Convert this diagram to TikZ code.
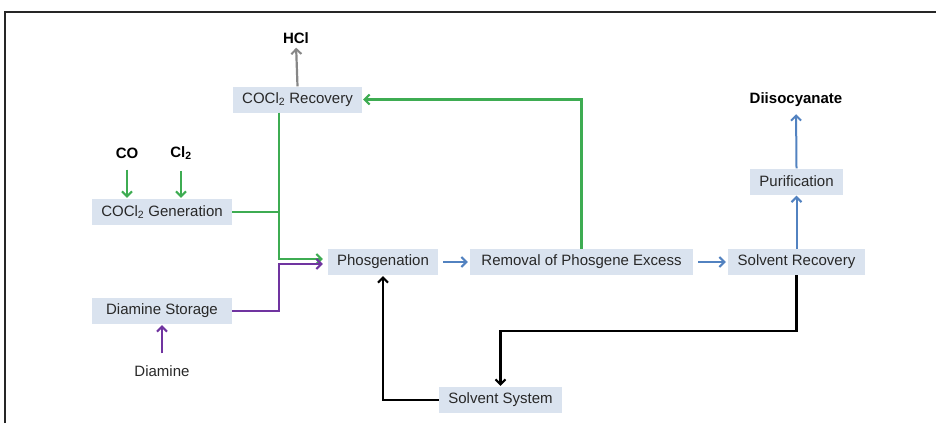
\documentclass[tikz,border=0pt]{standalone}
\usepackage{fontspec}
\setmainfont{Liberation Sans}
\usetikzlibrary{arrows.meta,calc}
\definecolor{boxfill}{RGB}{218,227,239}
\definecolor{txt}{RGB}{40,40,40}
\definecolor{grn}{RGB}{62,172,82}
\definecolor{prp}{RGB}{112,52,160}
\definecolor{blu}{RGB}{82,130,192}
\definecolor{gry}{RGB}{135,135,135}
\tikzset{
  procbox/.style={fill=boxfill, text=txt, inner xsep=0pt, inner ysep=0pt, minimum height=26pt, font=\fontsize{15}{18}\selectfont},
  lbl/.style={text=black, inner sep=0pt, font=\fontsize{15}{18}\selectfont\bfseries},
  plainlbl/.style={text=txt, inner sep=0pt, font=\fontsize{15}{18}\selectfont},
  tip/.style={-{Straight Barb[length=5pt,width=10pt,line width=2pt]}},
  gline/.style={draw=grn, line width=2.3pt},
  pline/.style={draw=prp, line width=2.3pt},
  bline/.style={draw=blu, line width=2pt},
  kline/.style={draw=black, line width=2.6pt},
  hline/.style={draw=gry, line width=2.2pt},
}
\begin{document}
\begin{tikzpicture}[x=1pt,y=-1pt]
\useasboundingbox (0,0) rectangle (936,423);
% frame
\draw[line width=1.6pt, draw=black!85] (5,423) -- (5,12) -- (936,12);

% nodes
\node[lbl] (hcl) at (296,38) {HCl};
\node[procbox, minimum width=129pt] (rec) at (297.5,99.5) {COCl\textsubscript{2} Recovery};
\node[lbl] (co) at (127,153) {CO};
\node[lbl] (cl) at (181,153) {Cl\textsubscript{2}};
\node[procbox, minimum width=140pt] (gen) at (162,212) {COCl\textsubscript{2} Generation};
\node[procbox, minimum width=140pt] (ds) at (162,311) {Diamine Storage};
\node[plainlbl] (dia) at (162,371) {Diamine};
\node[procbox, minimum width=110pt] (phos) at (383,262) {Phosgenation};
\node[procbox, minimum width=223pt] (rem) at (581.5,262) {Removal of Phosgene Excess};
\node[procbox, minimum width=137pt] (srec) at (796.5,262) {Solvent Recovery};
\node[procbox, minimum width=93pt] (pur) at (796.5,181.5) {Purification};
\node[lbl] (dii) at (796,100) {Diisocyanate};
\node[procbox, minimum width=123pt] (ss) at (500.5,400) {Solvent System};

% helper coordinates
\coordinate (jx) at (279,0);
\coordinate (gy) at (0,259);
\coordinate (py) at (0,264);
\coordinate (ky) at (0,331);

% gray HCl
\draw[hline,tip,shorten >=4pt] (rec.north) -- (hcl.south);
% green
\draw[gline,tip,shorten <=11pt,shorten >=1pt] (co.south) -- (co.south |- gen.north);
\draw[gline,tip,shorten <=11pt,shorten >=1pt] (cl.south) -- (cl.south |- gen.north);
\draw[gline] (gen.east) -- (jx |- gen.east);
\draw[gline,tip,shorten >=5pt] (rec.south -| jx) -- (jx |- gy) -- (phos.west |- gy);
\draw[gline,tip,shorten >=1pt] (rem.north) |- (rec.east);
% purple
\draw[pline,tip,shorten >=5pt] (ds.east) -| (jx |- py) -- (phos.west |- py);
\draw[pline,tip,shorten <=12pt,shorten >=1pt] (dia.north) -- (ds.south);
% blue
\draw[bline,tip,shorten <=5pt,shorten >=2pt] (phos.east) -- (rem.west);
\draw[bline,tip,shorten <=5pt,shorten >=2pt] (rem.east) -- (srec.west);
\draw[bline,tip,shorten >=1pt] (srec.north) -- (pur.south);
\draw[bline,tip,shorten >=7pt] (pur.north) -- (dii.south);
% black
\draw[kline,tip,shorten >=1pt] (srec.south) -- (srec.south |- ky) -| (ss.north);
\draw[kline,tip,shorten >=1pt] (ss.west) -| (phos.south);
\end{tikzpicture}
\end{document}
